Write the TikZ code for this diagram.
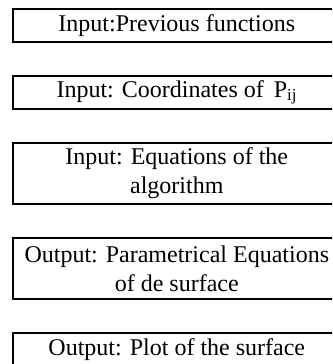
\documentclass[tikz,border=0pt]{standalone}
\usepackage{fontspec}
\setmainfont{Liberation Serif}
\begin{document}
\begin{tikzpicture}[x=1pt,y=1pt,
  box/.style={draw, line width=1.6pt, rectangle, inner sep=0pt, minimum width=328pt, align=center, font=\fontsize{24}{29}\selectfont, anchor=north west},
  onebox/.style={box, minimum height=33pt},
  twobox/.style={box, minimum height=61pt}]
\useasboundingbox (0,0) rectangle (332,-364);
\clip (0,0) rectangle (332,-364);
\node[onebox] (b1) at (12,-8) {Input:Previous functions};
\node[onebox] (b2) at (12,-75) {Input: Coordinates of\, P\textsubscript{ij}};
\node[twobox] (b3) at (12,-142) {Input: Equations of the\\algorithm};
\node[twobox] (b4) at (12,-237) {Output: Parametrical Equations\\of de surface};
\node[onebox] (b5) at (12,-332) {Output: Plot of the surface};
\end{tikzpicture}
\end{document}
